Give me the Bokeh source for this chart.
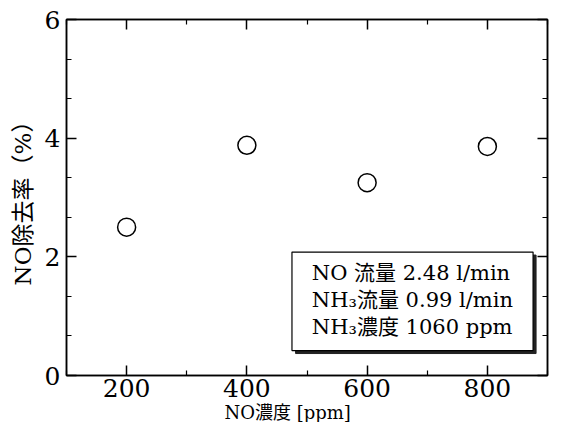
from bokeh.plotting import figure
from bokeh.models import FixedTicker, LinearAxis, Range1d, Title
from bokeh.core.properties import value
from bokeh.embed import file_html
from bokeh.resources import INLINE

# ---- data ----
no_conc = [200, 400, 600, 800]
removal = [2.50, 3.88, 3.25, 3.86]
x_ticks = [200, 400, 600, 800]
x_minor = [100, 300, 500, 700, 900]
y_ticks = [0, 2, 4, 6]
y_minor = [2/3, 4/3, 8/3, 10/3, 14/3, 16/3]
x_label = "NO濃度 [ppm]"
y_label = "NO除去率（%）"
info_lines = ["NO 流量 2.48 l/min", "NH₃流量 0.99 l/min", "NH₃濃度 1060 ppm"]

SERIF = "DejaVu Serif, Noto Sans CJK JP, serif"

p = figure(width=549, height=422, x_range=Range1d(100, 900), y_range=Range1d(0, 6),
           output_backend="svg", toolbar_location=None,
           min_border_left=66, min_border_top=19, min_border_right=2, min_border_bottom=40)
p.grid.visible = False
p.outline_line_color = "black"
p.outline_line_width = 1.5
p.background_fill_color = "white"

xt = FixedTicker(ticks=x_ticks, minor_ticks=x_minor)
yt = FixedTicker(ticks=y_ticks, minor_ticks=y_minor)

def style(ax, labels=True, ticks=None):
    ax.axis_line_color = "black"
    ax.axis_line_width = 1.5
    ax.major_tick_in = 10
    ax.major_tick_out = 0
    ax.minor_tick_in = 5
    ax.minor_tick_out = 0
    ax.major_tick_line_width = 1.5
    ax.minor_tick_line_width = 1.2
    ax.major_tick_line_color = "black"
    ax.minor_tick_line_color = "black"
    if labels:
        ax.major_label_text_font = SERIF
        ax.major_label_text_font_size = "25px"
        ax.major_label_text_color = "black"
    else:
        ax.major_label_overrides = {t: "" for t in ticks}
        ax.major_label_standoff = 0

xa = p.xaxis[0]
xa.ticker = xt
style(xa)
xa.major_label_standoff = 3

ya = p.yaxis[0]
ya.ticker = yt
style(ya)
ya.major_label_standoff = 6
ya.axis_label = y_label
ya.axis_label_text_font = SERIF
ya.axis_label_text_font_size = "23px"
ya.axis_label_text_font_style = "normal"
ya.axis_label_text_color = "black"
ya.axis_label_standoff = 6

top = LinearAxis(ticker=xt)
style(top, labels=False, ticks=x_ticks)
p.add_layout(top, "above")
right = LinearAxis(ticker=yt)
style(right, labels=False, ticks=y_ticks)
p.add_layout(right, "right")

# x-axis label, placed left of centre as in the original
p.add_layout(Title(text=x_label, align="left", offset=158, text_font=SERIF,
                   text_font_size="18px", text_font_style="normal", text_color="black",
                   standoff=0), "below")

# info box with shadow
p.quad(left=[481], right=[881], top=[2.03], bottom=[0.37], fill_color="#222222", line_color="#222222")
p.quad(left=[475], right=[876], top=[2.08], bottom=[0.42], fill_color="white", line_color="black", line_width=1.2)
p.text(x=[508] * 3, y=[1.72, 1.27, 0.82], text=info_lines, text_font=value(SERIF),
       text_font_size="21px", text_baseline="middle", text_align="left", text_color="black")

p.scatter(no_conc, removal, size=18, marker="circle", fill_color="white",
          line_color="black", line_width=1.5)

open("out.html", "w").write(file_html(p, INLINE))
